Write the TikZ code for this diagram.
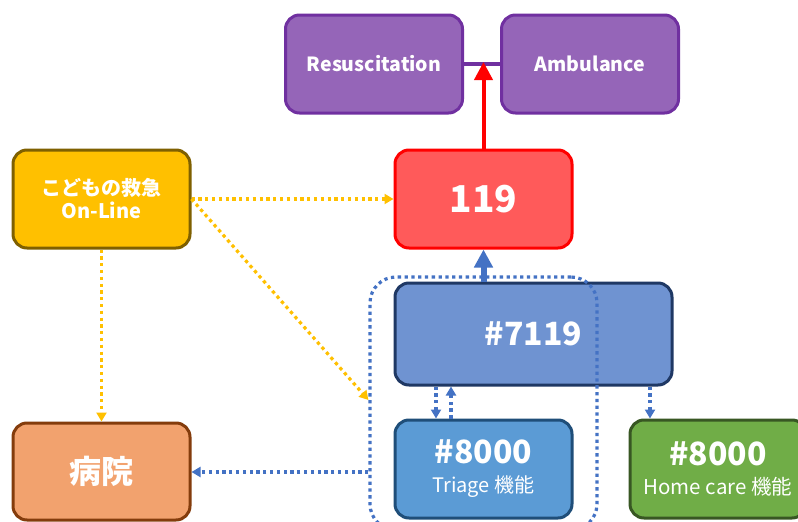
\documentclass[tikz,border=0pt]{standalone}
\usepackage{fontspec}
\setmainfont{Noto Sans CJK JP}
\usetikzlibrary{arrows.meta}
\definecolor{purfill}{HTML}{9565B8}
\definecolor{purdraw}{HTML}{7030A0}
\definecolor{redfill}{HTML}{FF5A5A}
\definecolor{reddraw}{HTML}{FF0000}
\definecolor{bluefill}{HTML}{6F93D1}
\definecolor{bluedraw}{HTML}{1F3864}
\definecolor{trifill}{HTML}{5B9BD5}
\definecolor{tridraw}{HTML}{1F4E79}
\definecolor{grnfill}{HTML}{70AD47}
\definecolor{grndraw}{HTML}{385723}
\definecolor{yelfill}{HTML}{FFC000}
\definecolor{yeldraw}{HTML}{7F6000}
\definecolor{hosfill}{HTML}{F2A26E}
\definecolor{hosdraw}{HTML}{843C0C}
\definecolor{dotblue}{HTML}{4472C4}
\definecolor{dotorange}{HTML}{FFC000}
\begin{document}
\begin{tikzpicture}[x=1pt,y=-1pt,
  box/.style={draw,rounded corners=14pt,line width=3pt,text=white,align=center,inner sep=0pt,
    minimum width=177pt,minimum height=98pt},
  dotline/.style={line width=3.2pt,dash pattern=on 3.3pt off 3.5pt},
  orangearrow/.style={dotline,draw=dotorange,-{Triangle[width=10pt,length=9pt]}},
  bluearrow/.style={dotline,draw=dotblue,-{Triangle[width=10pt,length=9pt]}},
  big/.style={font=\fontsize{32}{36}\selectfont\bfseries},
  mid/.style={font=\fontsize{19.5}{22}\selectfont\bfseries}]
\useasboundingbox[fill=white] (0,0) rectangle (798,522);
% boxes
\node[box,fill=purfill,draw=purdraw,mid] (res) at (374,64) {Resuscitation};
\node[box,fill=purfill,draw=purdraw,mid] (amb) at (590,64) {Ambulance};
\node[box,fill=redfill,draw=reddraw,font=\fontsize{37}{42}\selectfont\bfseries] (n119) at (483.5,199) {119};
\node[box,fill=bluefill,draw=bluedraw,minimum width=277pt,minimum height=102pt,big] (n7119) at (533.5,334) {\#7119};
\node[box,fill=trifill,draw=tridraw,font=\fontsize{20}{29}\selectfont] (tri) at (483.5,469) {{\fontsize{32}{29}\selectfont\bfseries\#8000}\\Triage 機能};
\node[box,fill=grnfill,draw=grndraw,minimum width=176pt,font=\fontsize{20.5}{29}\selectfont] (home) at (718,469) {{\fontsize{32}{29}\selectfont\bfseries\#8000}\\Home care 機能};
\node[box,fill=yelfill,draw=yeldraw,font=\fontsize{20}{23}\selectfont\bfseries] (kodo) at (101.5,199) {こどもの救急\\On-Line};
\node[box,fill=hosfill,draw=hosdraw,minimum height=97pt,font=\fontsize{32}{36}\selectfont\bfseries] (hosp) at (101.5,471.5) {病院};
% group outline
\node[draw=dotblue,dotline,rounded corners=26pt,minimum width=227pt,minimum height=253pt,inner sep=0pt] (grp) at (483.5,403.5) {};
% connectors
\draw[purdraw,line width=4pt] (res.east) -- (amb.west);
\coordinate (mid) at (n119.north |- res.east);
\draw[reddraw,line width=4pt,-{Triangle[width=18pt,length=18pt]}] (n119.north) -- ([yshift=2pt]mid);
\draw[dotblue,line width=6pt,-{Triangle[width=18pt,length=18pt]}] (n7119.north -| n119.south) -- (n119.south);
\coordinate (g1) at (grp.west |- 0,400);
\coordinate (g2) at (grp.west |- 0,472);
\draw[orangearrow] (kodo.east) -- (n119.west);
\draw[orangearrow] (kodo.east) -- (g1);
\draw[orangearrow] (kodo.south) -- (hosp.north);
\draw[bluearrow] (g2) -- (hosp.east |- g2);
\draw[bluearrow] ([xshift=-47.5pt]tri.north |- n7119.south) -- ([xshift=-47.5pt]tri.north);
\draw[bluearrow] ([xshift=-32.5pt]tri.north) -- ([xshift=-32.5pt]tri.north |- n7119.south);
\draw[bluearrow] (650,0 |- n7119.south) -- (650,0 |- home.north);
\end{tikzpicture}
\end{document}
